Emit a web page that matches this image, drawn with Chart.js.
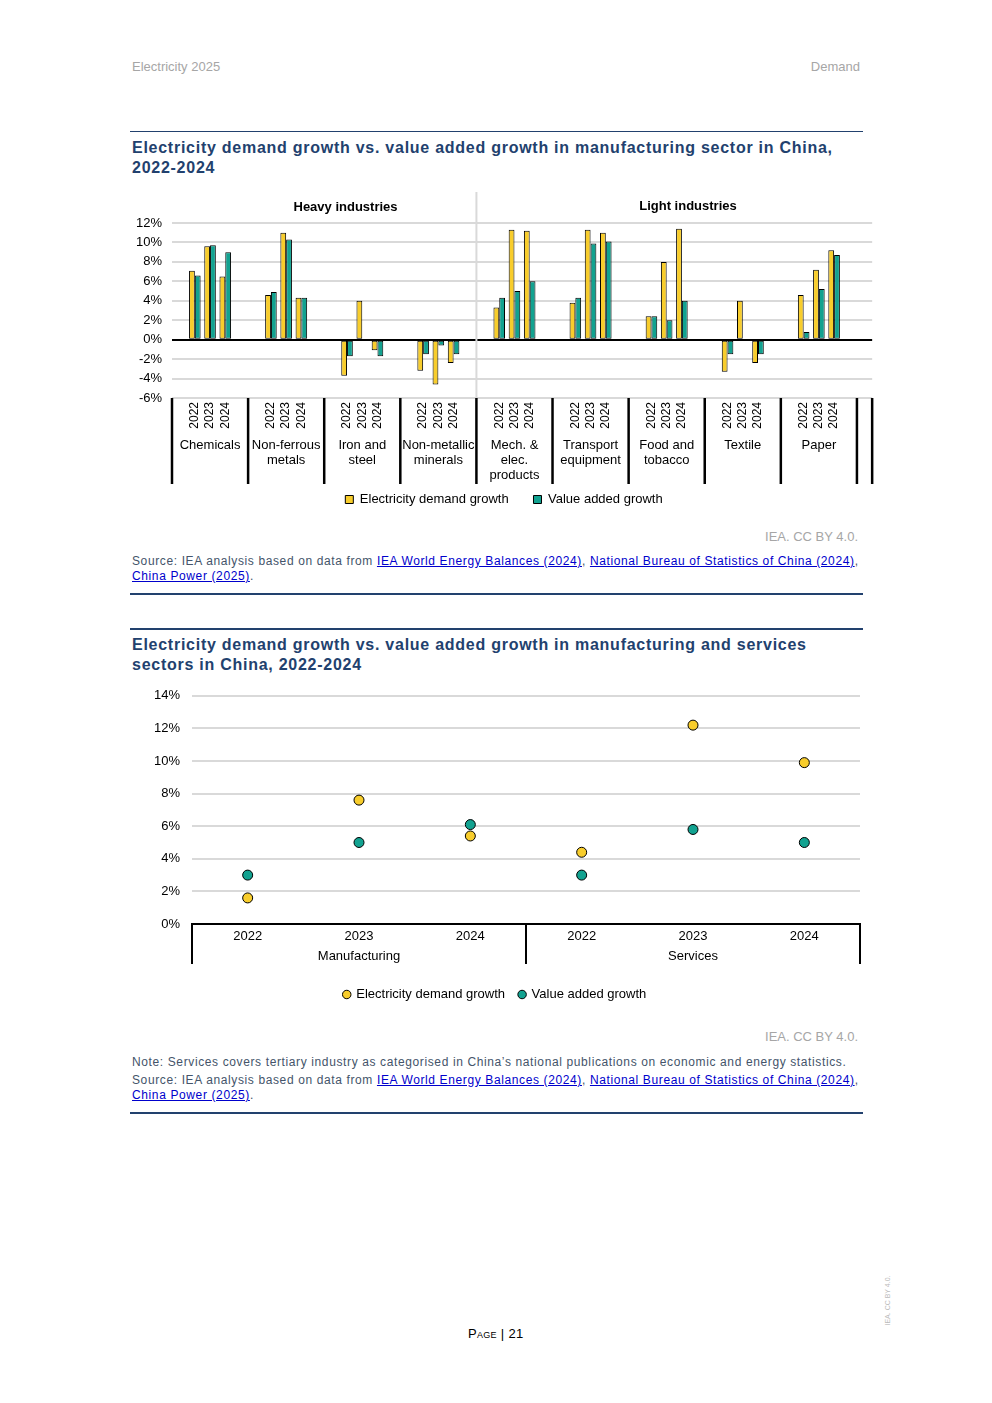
<!DOCTYPE html>
<html><head><meta charset="utf-8">
<script src="https://cdn.jsdelivr.net/npm/chart.js@4.4.1/dist/chart.umd.min.js"></script>
<style>
body{margin:0;background:#fff;font-family:"Liberation Sans",Arial,sans-serif;}
.page{position:relative;width:992px;height:1403px;overflow:hidden;}
.hdr{position:absolute;color:#a6a6a6;font-size:13px;line-height:15px;top:59px;}
.rule{position:absolute;left:130px;width:733px;background:#22416e;}
.title{position:absolute;left:132px;width:760px;color:#22416e;font-weight:bold;font-size:16px;line-height:20px;letter-spacing:0.74px;white-space:nowrap;}
.cc{position:absolute;right:134px;color:#a6a6a6;font-size:13px;line-height:15px;}
.src{position:absolute;left:132px;width:780px;color:#44546a;font-size:12px;line-height:15px;letter-spacing:0.62px;white-space:nowrap;}
.src a{color:#0000cc;text-decoration:underline;}
.box{position:absolute;}
</style></head>
<body><div class="page">
<div class="hdr" style="left:132px">Electricity 2025</div>
<div class="hdr" style="right:132px">Demand</div>

<div class="rule" style="top:131px;height:1px"></div>
<div class="title" style="top:138px">Electricity demand growth vs. value added growth in manufacturing sector in China,<br>2022-2024</div>
<div class="box" style="left:130px;top:185px;width:753px;height:331px"><canvas id="c1"></canvas></div>
<div class="cc" style="top:529px">IEA. CC BY 4.0.</div>
<div class="src" style="top:554px">Source: IEA analysis based on data from <a>IEA World Energy Balances (2024)</a>, <a>National Bureau of Statistics of China (2024)</a>,<br><a>China Power (2025)</a>.</div>
<div class="rule" style="top:593px;height:2px"></div>

<div class="rule" style="top:628px;height:2px"></div>
<div class="title" style="top:635px">Electricity demand growth vs. value added growth in manufacturing and services<br>sectors in China, 2022-2024</div>
<div class="box" style="left:130px;top:676px;width:740px;height:335px"><canvas id="c2"></canvas></div>
<div class="cc" style="top:1029px">IEA. CC BY 4.0.</div>
<div class="src" style="top:1055px">Note: Services covers tertiary industry as categorised in China’s national publications on economic and energy statistics.</div>
<div class="src" style="top:1073px">Source: IEA analysis based on data from <a>IEA World Energy Balances (2024)</a>, <a>National Bureau of Statistics of China (2024)</a>,<br><a>China Power (2025)</a>.</div>
<div class="rule" style="top:1112px;height:2px"></div>

<div style="position:absolute;left:468px;top:1326px;font-size:13px;color:#000;font-variant:small-caps;letter-spacing:0.3px;">Page | 21</div>
<div style="position:absolute;left:857px;top:1297px;width:60px;font-size:7px;color:#bbb;transform:rotate(-90deg);text-align:center;">IEA. CC BY 4.0.</div>
</div>
<script>
// ---------- Data: chart 1 ----------
const sectors = [['Chemicals'],['Non-ferrous','metals'],['Iron and','steel'],['Non-metallic','minerals'],['Mech. &','elec.','products'],['Transport','equipment'],['Food and','tobacco'],['Textile'],['Paper']];
const years = ['2022','2023','2024'];
const sectorGroups = ['Heavy industries','Light industries'];
const elecDemand = [7.1,9.6,6.5, 4.6,11.0,4.3, -3.7,4.0,-1.1, -3.2,-4.6,-2.4, 3.3,11.3,11.2, 3.8,11.3,11.0, 2.4,8.0,11.4, -3.3,4.0,-2.4, 4.6,7.2,9.2];
const valueAdded = [6.6,9.7,9.0, 4.9,10.3,4.3, -1.7,0,-1.7, -1.5,-0.6,-1.5, 4.3,5.0,6.0, 4.3,9.9,10.1, 2.4,2.0,4.0, -1.5,0,-1.5, 0.8,5.2,8.7];
const yTicks1 = [-6,-4,-2,0,2,4,6,8,10,12];

// ---------- Data: chart 2 ----------
const periods = ['2022','2023','2024','2022','2023','2024'];
const sectorsB = ['Manufacturing','Services'];
const elecDemandB = [1.6,7.6,5.4, 4.4,12.2,9.9];
const valueAddedB = [3.0,5.0,6.1, 3.0,5.8,5.0];
const yTicks2 = [0,2,4,6,8,10,12,14];

const YELLOW = '#f8cd2c', TEAL = '#12a290', GRID = '#d9d9d9';
const FONT = '"Liberation Sans", Arial, sans-serif';
Chart.defaults.font.family = FONT;
Chart.defaults.color = '#000';

// build slot labels: blank, 2022, 2023, 2024, blank per sector + trailing blank
const labels1 = [], e1 = [], v1 = [];
sectors.forEach((s, i) => {
  labels1.push(''); e1.push(null); v1.push(null);
  years.forEach((y, j) => { labels1.push(y); e1.push(elecDemand[i*3+j]); v1.push(valueAdded[i*3+j]); });
  labels1.push(''); e1.push(null); v1.push(null);
});
labels1.push(''); e1.push(null); v1.push(null);

const deco1 = {
  id: 'deco1',
  afterDraw(chart) {
    const ctx = chart.ctx, xs = chart.scales.x, ca = chart.chartArea;
    const slot = xs.width / labels1.length;
    ctx.save();
    ctx.strokeStyle = GRID; ctx.lineWidth = 2;
    ctx.beginPath(); ctx.moveTo(xs.left + 20*slot, ca.top - 31); ctx.lineTo(xs.left + 20*slot, ca.bottom); ctx.stroke();
    ctx.strokeStyle = '#000'; ctx.lineWidth = 2.5;
    for (let g = 0; g <= sectors.length; g++) {
      const x = xs.left + g*5*slot;
      ctx.beginPath(); ctx.moveTo(x, ca.bottom); ctx.lineTo(x, ca.bottom + 86); ctx.stroke();
    }
    ctx.beginPath(); ctx.moveTo(xs.right, ca.bottom); ctx.lineTo(xs.right, ca.bottom + 86); ctx.stroke();
    ctx.fillStyle = '#000'; ctx.font = '13px ' + FONT; ctx.textAlign = 'center'; ctx.textBaseline = 'middle';
    sectors.forEach((s, g) => {
      const cx = xs.left + (g*5 + 2.5)*slot;
      s.forEach((line, k) => ctx.fillText(line, cx, ca.bottom + 47 + k*15));
    });
    ctx.font = 'bold 13px ' + FONT;
    ctx.fillText(sectorGroups[0], xs.left + 11.4*slot, ca.top - 16);
    ctx.fillText(sectorGroups[1], xs.left + 33.9*slot, ca.top - 17);
    ctx.restore();
  }
};

new Chart(document.getElementById('c1'), {
  type: 'bar',
  data: { labels: labels1, datasets: [
    { label: 'Electricity demand growth', data: e1, backgroundColor: YELLOW, borderColor: '#000', borderWidth: 1, borderSkipped: false, categoryPercentage: 0.76, barPercentage: 1 },
    { label: 'Value added growth', data: v1, backgroundColor: TEAL, borderColor: '#000', borderWidth: 1, borderSkipped: false, categoryPercentage: 0.76, barPercentage: 1 }
  ]},
  options: {
    responsive: true, maintainAspectRatio: false, animation: false,
    layout: { padding: { top: 38, right: 5, left: 0, bottom: 0 } },
    plugins: {
      legend: { position: 'bottom', labels: { boxWidth: 8, boxHeight: 8, font: { size: 13 }, color: '#000', padding: 14,
        generateLabels(chart) {
          const items = Chart.defaults.plugins.legend.labels.generateLabels(chart);
          items[0].text = items[0].text + '   ';
          items.forEach(it => { it.lineWidth = 1; it.strokeStyle = '#000'; });
          return items;
        } } },
      tooltip: { enabled: false }
    },
    scales: {
      x: {
        grid: { display: false, drawTicks: false }, border: { display: false },
        ticks: { autoSkip: false, minRotation: 90, maxRotation: 90, font: { size: 12 }, padding: 4 },
        afterFit(s) { s.height = 81; }
      },
      y: {
        min: -6, max: 12,
        afterBuildTicks(s) { s.ticks = yTicks1.map(v => ({ value: v })); },
        ticks: { callback: v => v + '%', font: { size: 13 }, padding: 10 },
        grid: { drawTicks: false, lineWidth: 2, color: c => c.tick && c.tick.value === 0 ? '#000' : GRID },
        border: { display: false },
        afterFit(s) { s.width = 42; }
      }
    }
  },
  plugins: [deco1]
});

const deco2 = {
  id: 'deco2',
  afterDraw(chart) {
    const ctx = chart.ctx, xs = chart.scales.x, ca = chart.chartArea;
    const w = xs.width / periods.length;
    ctx.save();
    ctx.strokeStyle = '#000'; ctx.lineWidth = 2;
    [0, 3, 6].forEach(i => {
      const x = xs.left + i*w;
      ctx.beginPath(); ctx.moveTo(x, ca.bottom); ctx.lineTo(x, ca.bottom + 40); ctx.stroke();
    });
    ctx.fillStyle = '#000'; ctx.font = '13px ' + FONT; ctx.textAlign = 'center'; ctx.textBaseline = 'middle';
    sectorsB.forEach((s, g) => ctx.fillText(s, xs.left + (g*3 + 1.5)*w, ca.bottom + 32));
    ctx.restore();
  }
};

new Chart(document.getElementById('c2'), {
  type: 'line',
  data: { labels: periods, datasets: [
    { label: 'Electricity demand growth', data: elecDemandB, showLine: false, pointStyle: 'circle', pointRadius: 5, pointBackgroundColor: YELLOW, backgroundColor: YELLOW, borderColor: '#000', pointBorderColor: '#000', pointBorderWidth: 1, order: 0 },
    { label: 'Value added growth', data: valueAddedB, showLine: false, pointStyle: 'circle', pointRadius: 5, pointBackgroundColor: TEAL, backgroundColor: TEAL, borderColor: '#000', pointBorderColor: '#000', pointBorderWidth: 1, order: 1 }
  ]},
  options: {
    responsive: true, maintainAspectRatio: false, animation: false,
    layout: { padding: { top: 1, right: 10, left: 0, bottom: 0 } },
    plugins: {
      legend: { position: 'bottom', labels: { usePointStyle: true, boxWidth: 6, boxHeight: 6, font: { size: 13 }, color: '#000', padding: 14 } },
      tooltip: { enabled: false }
    },
    scales: {
      x: {
        offset: true,
        grid: { display: false, drawTicks: false },
        border: { display: true, color: '#000', width: 2 },
        ticks: { font: { size: 13 }, padding: 5 },
        afterFit(s) { s.height = 50; }
      },
      y: {
        min: 0, max: 14,
        afterBuildTicks(s) { s.ticks = yTicks2.map(v => ({ value: v })); },
        ticks: { callback: v => v + '%', font: { size: 13 }, padding: 12 },
        grid: { drawTicks: false, lineWidth: 2, color: c => c.tick && c.tick.value === 0 ? 'rgba(0,0,0,0)' : GRID },
        border: { display: false },
        afterFit(s) { s.width = 62; }
      }
    }
  },
  plugins: [deco2]
});
</script>
</body></html>
